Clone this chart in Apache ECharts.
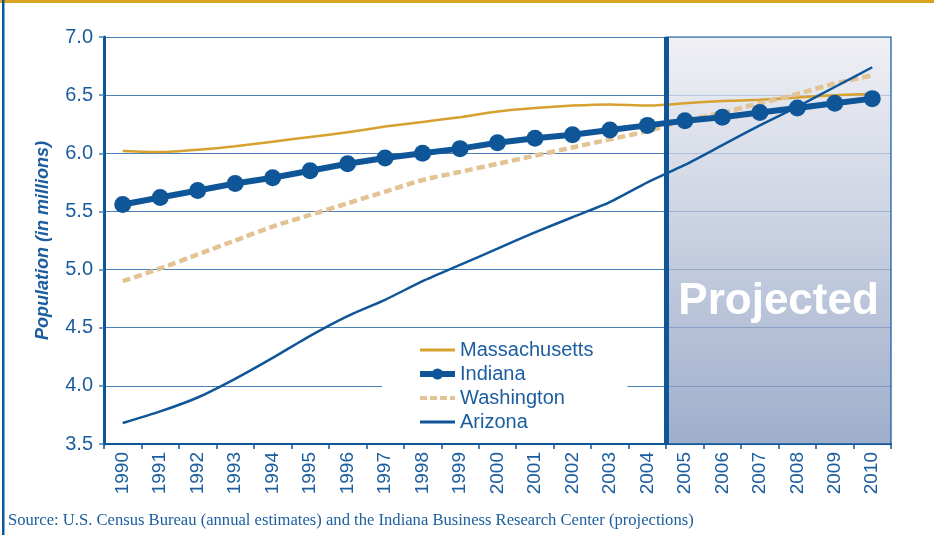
<!DOCTYPE html>
<html>
<head>
<meta charset="utf-8">
<script src="https://cdn.jsdelivr.net/npm/echarts@6/dist/echarts.min.js"></script>
<style>
html,body{margin:0;padding:0;background:#fff;}
#c{width:934px;height:535px;}
</style>
</head>
<body>
<div id="c"></div>
<script>
var years = ['1990','1991','1992','1993','1994','1995','1996','1997','1998','1999','2000','2001','2002','2003','2004','2005','2006','2007','2008','2009','2010'];
var massachusetts = [6.02,6.01,6.03,6.06,6.10,6.14,6.18,6.23,6.27,6.31,6.36,6.39,6.41,6.42,6.41,6.43,6.45,6.46,6.48,6.50,6.51];
var indiana = [5.56,5.62,5.68,5.74,5.79,5.85,5.91,5.96,6.00,6.04,6.09,6.13,6.16,6.20,6.24,6.28,6.31,6.35,6.39,6.43,6.47];
var washington = [4.90,5.01,5.13,5.25,5.37,5.47,5.57,5.67,5.77,5.84,5.91,5.98,6.05,6.12,6.19,6.28,6.35,6.43,6.51,6.60,6.67];
var arizona = [3.68,3.78,3.90,4.06,4.24,4.43,4.60,4.74,4.90,5.04,5.18,5.32,5.45,5.58,5.75,5.90,6.07,6.24,6.40,6.57,6.74];
var yTicks = ['3.5','4.0','4.5','5.0','5.5','6.0','6.5','7.0'];
var projectedStart = 15; // index of 2005 boundary
var sourceText = 'Source: U.S. Census Bureau (annual estimates) and the Indiana Business Research Center (projections)';

var BLUE = '#0f5699';
var TXT = '#1b5d9e';
var GOLD = '#d6a12e';
var TAN = '#e3c293';

var LINE_ICON = 'path://M0,0H35V3H0Z';
var DASH_ICON = 'path://M0,0H7V4H0Z M10,0H17V4H10Z M20,0H27V4H20Z M30,0H35V4H30Z';

var chart = echarts.init(document.getElementById('c'));
chart.setOption({
  animation: false,
  backgroundColor: '#fff',
  textStyle: {fontFamily: 'Liberation Sans, Arial, sans-serif'},
  grid: {left: 104, right: 43, top: 37, bottom: 91, containLabel: false},
  legend: {
    orient: 'vertical',
    left: 382, top: 337,
    backgroundColor: '#fff',
    padding: [3, 34, 4, 35],
    itemWidth: 35, itemHeight: 14, itemGap: 4,
    symbolKeepAspect: true,
    textStyle: {color: TXT, fontSize: 20, fontFamily: 'Liberation Sans, Arial, sans-serif'},
    data: [
      {name: 'Massachusetts', icon: LINE_ICON},
      {name: 'Indiana', lineStyle: {width: 6}},
      {name: 'Washington', icon: DASH_ICON},
      {name: 'Arizona', icon: LINE_ICON}
    ]
  },
  xAxis: [{
    type: 'category',
    data: years,
    boundaryGap: true,
    axisLine: {lineStyle: {color: BLUE, width: 2}},
    axisTick: {show: true, length: 5, lineStyle: {color: BLUE, width: 1.5}},
    axisLabel: {rotate: 90, color: TXT, fontSize: 19, margin: 8},
    splitLine: {show: false}
  }, {
    type: 'value', min: 0, max: years.length, show: false
  }],
  yAxis: {
    type: 'value', min: 3.5, max: 7.0, interval: 0.5,
    name: 'Population (in millions)',
    nameLocation: 'middle', nameGap: 52,
    nameTextStyle: {color: TXT, fontSize: 18, fontWeight: 'bold', fontStyle: 'italic'},
    axisLine: {show: true, lineStyle: {color: BLUE, width: 3}},
    axisTick: {show: true, length: 5, lineStyle: {color: '#4a7fb8', width: 1.5}},
    axisLabel: {color: TXT, fontSize: 20, margin: 11, formatter: function (v) { return v.toFixed(1); }},
    splitLine: {show: true, lineStyle: {color: '#4a7fb8', width: 1.2}}
  },
  series: [{
    name: 'Projected-area', type: 'line', xAxisIndex: 1, data: [], silent: true,
    markArea: {
      silent: true,
      itemStyle: {
        color: new echarts.graphic.LinearGradient(0, 0, 0, 1, [
          {offset: 0, color: 'rgba(236,236,242,0.75)'},
          {offset: 1, color: 'rgba(126,147,186,0.75)'}
        ]),
        borderColor: BLUE, borderWidth: 1.2
      },
      label: {
        show: true, position: 'inside', offset: [0, 61],
        formatter: 'Projected', color: '#fff', fontSize: 44, fontWeight: 'bold',
        fontFamily: 'Liberation Sans, Arial, sans-serif',
        textShadowColor: BLUE, textShadowOffsetX: -1.5, textShadowOffsetY: -1.5, textShadowBlur: 0
      },
      data: [[{xAxis: projectedStart}, {xAxis: years.length}]]
    },
    markLine: {
      silent: true, symbol: ['none','none'], label: {show: false},
      lineStyle: {color: BLUE, width: 5, type: 'solid'},
      data: [{xAxis: projectedStart}]
    }
  }, {
    name: 'Massachusetts', type: 'line', data: massachusetts, symbol: 'none', smooth: 0.2,
    lineStyle: {color: GOLD, width: 2.5}, itemStyle: {color: GOLD}, z: 3
  }, {
    name: 'Washington', type: 'line', data: washington, symbol: 'none', smooth: 0.2,
    lineStyle: {color: TAN, width: 4.5, type: [8, 4]}, itemStyle: {color: TAN}, z: 3
  }, {
    name: 'Arizona', type: 'line', data: arizona, symbol: 'none', smooth: 0.2,
    lineStyle: {color: BLUE, width: 2.5}, itemStyle: {color: BLUE}, z: 4
  }, {
    name: 'Indiana', type: 'line', data: indiana, symbol: 'circle', symbolSize: 17,
    lineStyle: {color: BLUE, width: 6}, itemStyle: {color: BLUE}, z: 5
  }],
  graphic: [
    {type: 'rect', left: 0, top: 0, shape: {width: 934, height: 3}, style: {fill: '#d9a520'}, z: 100},
    {type: 'rect', left: 2, top: 0, shape: {width: 2.5, height: 535}, style: {fill: BLUE}, z: 100},
    {type: 'text', left: 8, top: 512, style: {text: sourceText, fill: TXT, font: '16.6px "Liberation Serif", "Times New Roman", serif'}, z: 100}
  ]
});
</script>
</body>
</html>
